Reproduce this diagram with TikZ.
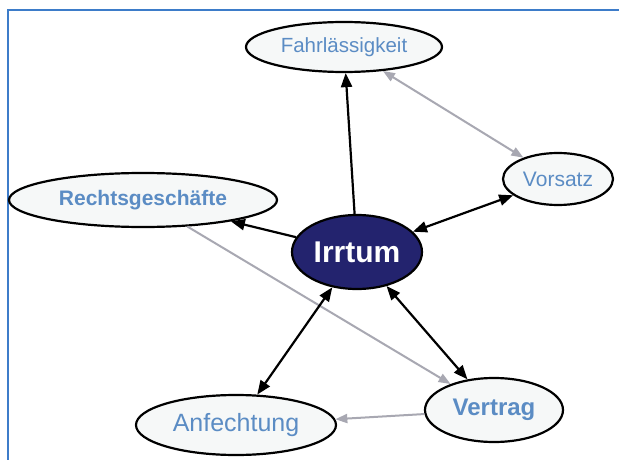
\documentclass[tikz,border=0pt]{standalone}
\usepackage{fontspec}
\setmainfont{Liberation Sans}
\usetikzlibrary{shapes.geometric,arrows.meta}
\definecolor{frameblue}{HTML}{3D7CC9}
\definecolor{txtblue}{HTML}{5B8CC4}
\definecolor{nodefill}{HTML}{F6F8F8}
\definecolor{irrfill}{HTML}{23236E}
\definecolor{edgegray}{HTML}{A8A8B2}
\tikzset{
  ell/.style={ellipse, draw=black, line width=2.2pt, fill=nodefill, inner sep=0pt, text=txtblue},
  blk/.style={line width=2.2pt, draw=black, {Triangle[length=14pt,width=11pt]}-{Triangle[length=14pt,width=11pt]}},
  blkone/.style={line width=2.2pt, draw=black, -{Triangle[length=14pt,width=11pt]}},
  gry/.style={line width=2pt, draw=edgegray, -{Triangle[length=12pt,width=9pt]}},
  grytwo/.style={line width=2pt, draw=edgegray, {Triangle[length=12pt,width=9pt]}-{Triangle[length=12pt,width=9pt]}}
}
\begin{document}
\begin{tikzpicture}[x=1pt,y=-1pt]
\useasboundingbox (0,0) rectangle (619,460);
\fill[white] (0,0) rectangle (619,460);
\draw[frameblue, line width=2pt] (7.5,460) -- (7.5,10.5) -- (619,10.5);

\node[ell, minimum width=196pt, minimum height=50pt, font=\fontsize{20.5}{24}\selectfont] (fahr) at (344,47) {Fahrlässigkeit};
\node[ell, minimum width=110pt, minimum height=52pt, font=\fontsize{21}{25}\selectfont] (vor) at (558,179) {Vorsatz};
\node[ell, minimum width=268pt, minimum height=54pt, font=\fontsize{21}{25}\selectfont\bfseries] (rg) at (143,200) {Rechtsgeschäfte};
\node[ell, fill=irrfill, text=white, minimum width=130pt, minimum height=74pt, font=\fontsize{30}{34}\selectfont\bfseries] (irr) at (357,252) {Irrtum};
\node[ell, minimum width=200pt, minimum height=60pt, font=\fontsize{25}{29}\selectfont] (anf) at (236,425) {Anfechtung};
\node[ell, minimum width=138pt, minimum height=64pt, font=\fontsize{24}{28}\selectfont\bfseries] (ver) at (494,410) {Vertrag};

\draw[grytwo] (fahr) -- (vor);
\draw[gry] (rg) -- (ver);
\draw[gry] (ver) -- (anf);
\draw[blkone] (irr) -- (fahr);
\draw[blkone] (irr) -- (rg);
\draw[blk] (irr) -- (vor);
\draw[blk] (irr) -- (anf);
\draw[blk] (irr) -- (ver);
\end{tikzpicture}
\end{document}
